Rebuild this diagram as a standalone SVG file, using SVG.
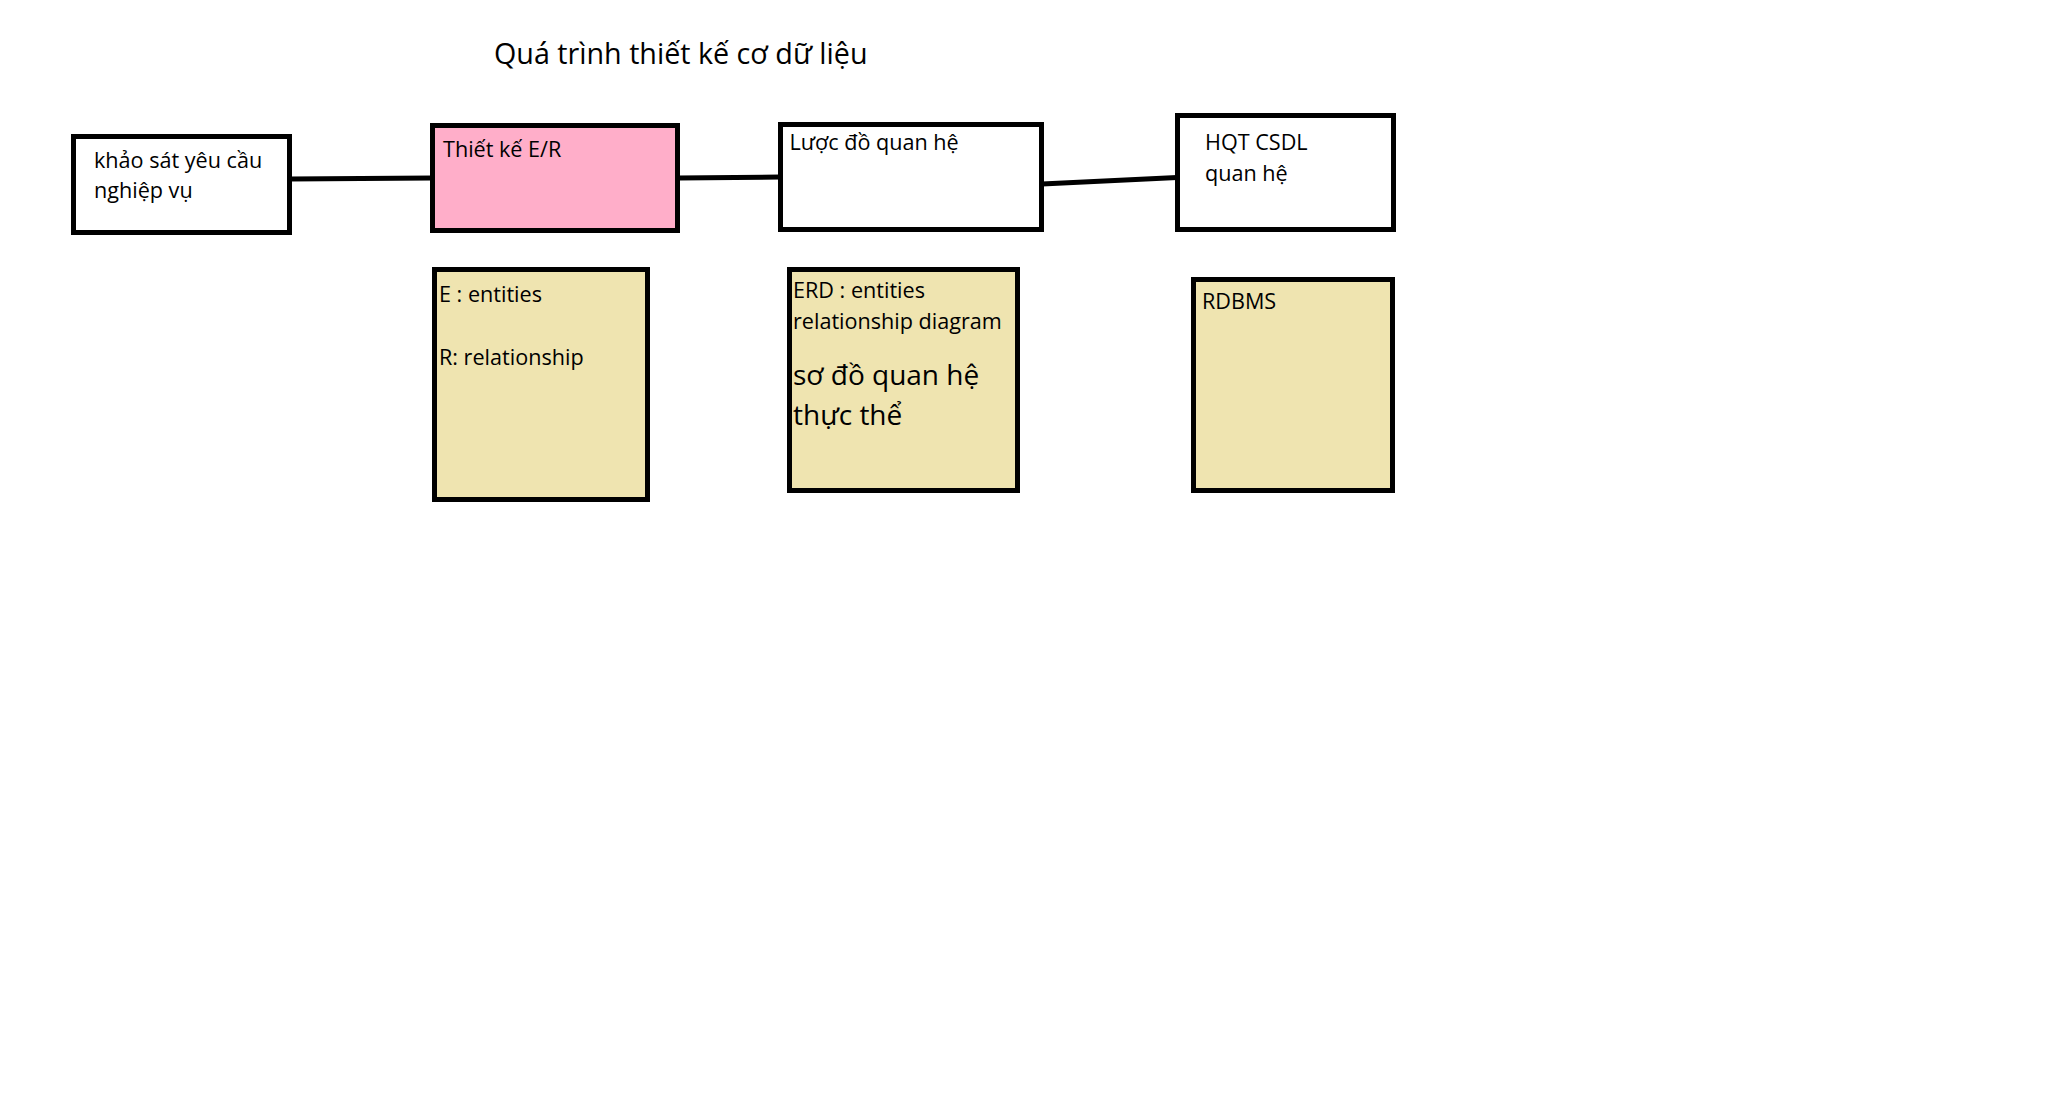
<svg xmlns="http://www.w3.org/2000/svg" width="2052" height="1107" viewBox="0 0 2052 1107">
  <style>
    .box { stroke: #000; stroke-width: 5; }
    .plain { fill: #fff; }
    .pink { fill: #FFAEC9; }
    .note { fill: #EFE4B0; }
    .t { font-family: "Open Sans", "Noto Sans", "Liberation Sans", sans-serif; font-size: 21.6px; fill: #000; }
    .big { font-size: 28px; }
    .title { font-size: 28.7px; }
    .conn { stroke: #000; stroke-width: 5; fill: none; }
  </style>
  <rect width="2052" height="1107" fill="#fff"/>
  <text class="t title" x="494" y="64">Quá trình thiết kế cơ dữ liệu</text>
  <g id="connectors">
    <line class="conn" x1="290" y1="179" x2="432" y2="178"/>
    <line class="conn" x1="678" y1="178" x2="780" y2="177"/>
    <line class="conn" x1="1042" y1="184" x2="1177" y2="177.5"/>
  </g>
  <g id="node-khao-sat">
    <rect class="box plain" x="73.5" y="136.5" width="216" height="96"/>
    <text class="t" x="94" y="168">khảo sát yêu cầu</text>
    <text class="t" x="94" y="198">nghiệp vụ</text>
  </g>
  <g id="node-thiet-ke">
    <rect class="box pink" x="432.5" y="125.5" width="245" height="105"/>
    <text class="t" x="443" y="157">Thiết kế E/R</text>
  </g>
  <g id="node-luoc-do">
    <rect class="box plain" x="780.5" y="124.5" width="261" height="105"/>
    <text class="t" x="789.5" y="150">Lược đồ quan hệ</text>
  </g>
  <g id="node-hqt">
    <rect class="box plain" x="1177.5" y="115.5" width="216" height="114"/>
    <text class="t" x="1205" y="150">HQT CSDL</text>
    <text class="t" x="1205" y="181">quan hệ</text>
  </g>
  <g id="note-er">
    <rect class="box note" x="434.5" y="269.5" width="213" height="230"/>
    <text class="t" x="439" y="302">E : entities</text>
    <text class="t" x="439" y="365">R: relationship</text>
  </g>
  <g id="note-erd">
    <rect class="box note" x="789.5" y="269.5" width="228" height="221"/>
    <text class="t" x="793" y="298">ERD : entities</text>
    <text class="t" x="793" y="329">relationship diagram</text>
    <text class="t big" x="793" y="385">sơ đồ quan hệ</text>
    <text class="t big" x="793" y="425">thực thể</text>
  </g>
  <g id="note-rdbms">
    <rect class="box note" x="1193.5" y="279.5" width="199" height="211"/>
    <text class="t" x="1202" y="309">RDBMS</text>
  </g>
</svg>
